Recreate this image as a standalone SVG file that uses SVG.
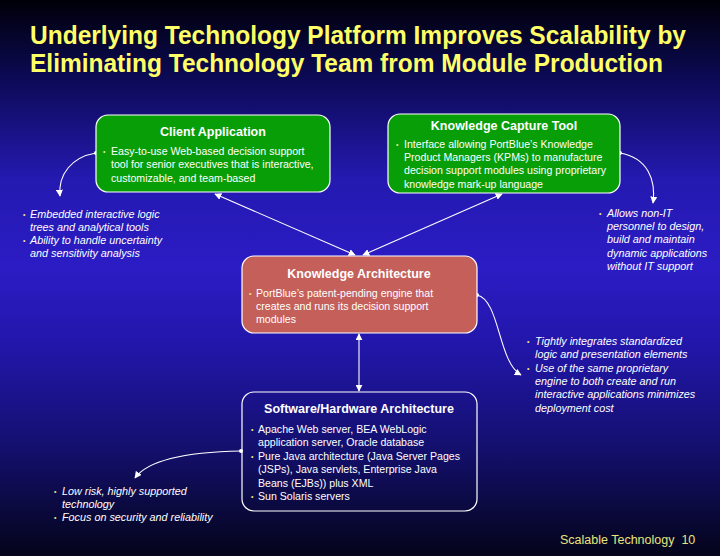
<svg xmlns="http://www.w3.org/2000/svg" width="720" height="556" viewBox="0 0 720 556">
<defs>
<linearGradient id="bg" x1="0" y1="0" x2="0" y2="1">
<stop offset="0" stop-color="#000008"/>
<stop offset="0.14" stop-color="#0c0a55"/>
<stop offset="0.32" stop-color="#2419b0"/>
<stop offset="0.48" stop-color="#2b1cc4"/>
<stop offset="0.62" stop-color="#2216aa"/>
<stop offset="0.8" stop-color="#141070"/>
<stop offset="1" stop-color="#04041a"/>
</linearGradient>
<marker id="ah" viewBox="0 0 10 10" refX="9" refY="5" markerWidth="7" markerHeight="7" markerUnits="userSpaceOnUse" orient="auto-start-reverse">
<path d="M0,0 L10,5 L0,10 z" fill="#ffffff"/>
</marker>
<marker id="dot" viewBox="0 0 10 10" refX="5" refY="5" markerWidth="4" markerHeight="4" markerUnits="userSpaceOnUse">
<circle cx="5" cy="5" r="5" fill="#ffffff"/>
</marker>
<style>
.title{font-family:"Liberation Sans",Arial,sans-serif;font-weight:bold;font-size:25px;fill:#ffff66}
.box{stroke:#ffffff;stroke-width:1.2}
.h{font-family:"Liberation Sans",Arial,sans-serif;font-weight:bold;font-size:12.5px;fill:#ffffff;text-anchor:middle}
.b{font-family:"Liberation Sans",Arial,sans-serif;font-size:10.6px;fill:#ffffff}
.i{font-family:"Liberation Sans",Arial,sans-serif;font-size:10.8px;font-style:italic;fill:#ffffff}
.bl{font-family:"Liberation Sans",Arial,sans-serif;font-size:7px;fill:#e8e880}
.c{fill:none;stroke:#ffffff;stroke-width:1.1}
.foot{font-family:"Liberation Sans",Arial,sans-serif;font-size:12.5px;fill:#e6e67a}
</style>
</defs>
<rect x="0" y="0" width="720" height="556" fill="url(#bg)"/>
<g id="title">
<text class="title" x="30" y="44" textLength="656" lengthAdjust="spacingAndGlyphs">Underlying Technology Platform Improves Scalability by</text>
<text class="title" x="30" y="72" textLength="633" lengthAdjust="spacingAndGlyphs">Eliminating Technology Team from Module Production</text>
</g>
<g id="connectors">
<line class="c" x1="215" y1="194" x2="355" y2="255" marker-start="url(#ah)" marker-end="url(#ah)"/>
<line class="c" x1="502" y1="194" x2="363" y2="255" marker-start="url(#ah)" marker-end="url(#ah)"/>
<line class="c" x1="359" y1="334" x2="359" y2="391" marker-start="url(#ah)" marker-end="url(#ah)"/>
<path class="c" d="M96,153 C72,157 58,174 60,196" marker-start="url(#dot)" marker-end="url(#ah)"/>
<path class="c" d="M620,153 C648,158 656,180 653,203" marker-start="url(#dot)" marker-end="url(#ah)"/>
<path class="c" d="M477,295 C500,300 498,362 521,375" marker-start="url(#dot)" marker-end="url(#ah)"/>
<path class="c" d="M241,451 C185,452 148,460 135,478" marker-start="url(#dot)" marker-end="url(#ah)"/>
</g>
<g id="client-application">
<rect class="box" x="96" y="115" width="234" height="77" rx="12" fill="#089e08"/>
<text class="h" x="213" y="136">Client Application</text>
<text class="bl" x="103" y="154">•</text>
<text class="b" x="111" y="155">Easy-to-use Web-based decision support</text>
<text class="b" x="111" y="168">tool for senior executives that is interactive,</text>
<text class="b" x="111" y="182">customizable, and team-based</text>
</g>
<g id="knowledge-capture-tool">
<rect class="box" x="388" y="114" width="232" height="79" rx="12" fill="#089e08"/>
<text class="h" x="504" y="130">Knowledge Capture Tool</text>
<text class="bl" x="396" y="147">•</text>
<text class="b" x="404" y="148">Interface allowing PortBlue’s Knowledge</text>
<text class="b" x="404" y="161">Product Managers (KPMs) to manufacture</text>
<text class="b" x="404" y="174">decision support modules using proprietary</text>
<text class="b" x="404" y="188">knowledge mark-up language</text>
</g>
<g id="knowledge-architecture">
<rect class="box" x="242" y="256" width="235" height="77" rx="12" fill="#c45f5a"/>
<text class="h" x="359" y="278">Knowledge Architecture</text>
<text class="bl" x="249" y="296">•</text>
<text class="b" x="256" y="297">PortBlue’s patent-pending engine that</text>
<text class="b" x="256" y="310">creates and runs its decision support</text>
<text class="b" x="256" y="323">modules</text>
</g>
<g id="software-hardware-architecture">
<rect class="box" x="242" y="392" width="235" height="119" rx="12" fill="none"/>
<text class="h" x="359" y="413">Software/Hardware Architecture</text>
<text class="bl" x="251" y="432">•</text>
<text class="b" x="258" y="433">Apache Web server, BEA WebLogic</text>
<text class="b" x="258" y="446">application server, Oracle database</text>
<text class="bl" x="251" y="459">•</text>
<text class="b" x="258" y="460">Pure Java architecture (Java Server Pages</text>
<text class="b" x="258" y="473">(JSPs), Java servlets, Enterprise Java</text>
<text class="b" x="258" y="487">Beans (EJBs)) plus XML</text>
<text class="bl" x="251" y="499">•</text>
<text class="b" x="258" y="500">Sun Solaris servers</text>
</g>
<g id="note-client">
<text class="bl" x="23" y="217">•</text>
<text class="i" x="30" y="218">Embedded interactive logic</text>
<text class="i" x="30" y="231">trees and analytical tools</text>
<text class="bl" x="23" y="243">•</text>
<text class="i" x="30" y="244">Ability to handle uncertainty</text>
<text class="i" x="30" y="257">and sensitivity analysis</text>
</g>
<g id="note-capture">
<text class="bl" x="599" y="216">•</text>
<text class="i" x="607" y="217">Allows non-IT</text>
<text class="i" x="607" y="230">personnel to design,</text>
<text class="i" x="607" y="243">build and maintain</text>
<text class="i" x="607" y="257">dynamic applications</text>
<text class="i" x="607" y="270">without IT support</text>
</g>
<g id="note-architecture">
<text class="bl" x="527" y="344">•</text>
<text class="i" x="535" y="345">Tightly integrates standardized</text>
<text class="i" x="535" y="358">logic and presentation elements</text>
<text class="bl" x="527" y="371">•</text>
<text class="i" x="535" y="372">Use of the same proprietary</text>
<text class="i" x="535" y="385">engine to both create and run</text>
<text class="i" x="535" y="398">interactive applications minimizes</text>
<text class="i" x="535" y="412">deployment cost</text>
</g>
<g id="note-software">
<text class="bl" x="54" y="494">•</text>
<text class="i" x="62" y="495">Low risk, highly supported</text>
<text class="i" x="62" y="508">technology</text>
<text class="bl" x="54" y="520">•</text>
<text class="i" x="62" y="521">Focus on security and reliability</text>
</g>
<g id="footer">
<text class="foot" x="560" y="544">Scalable Technology&#160; 10</text>
</g>
</svg>
